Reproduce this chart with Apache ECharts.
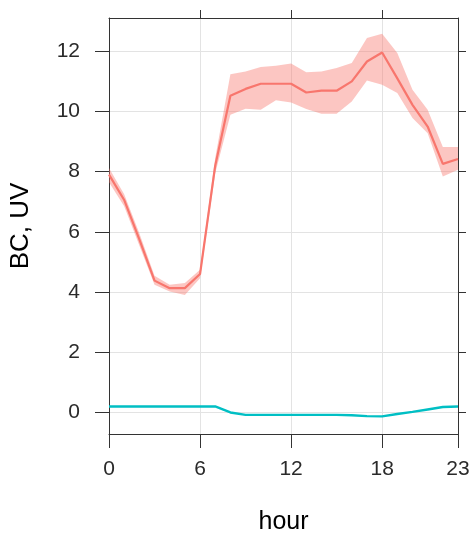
<!DOCTYPE html>
<html><head><meta charset="utf-8">
<script src="https://cdn.jsdelivr.net/npm/echarts@6/dist/echarts.min.js"></script>
<style>html,body{margin:0;padding:0;background:#fff}#c{width:473px;height:534px}</style>
</head><body><div id="c"></div>
<script>
const hours = [0,1,2,3,4,5,6,7,8,9,10,11,12,13,14,15,16,17,18,19,20,21,22,23];
const bcMean  = [7.9,7.06,5.75,4.38,4.13,4.13,4.6,8.2,10.52,10.75,10.92,10.92,10.92,10.63,10.69,10.69,11.0,11.66,11.96,11.1,10.22,9.5,8.26,8.42];
const bcLower = [7.65,6.85,5.55,4.24,4.02,3.9,4.46,7.95,9.89,10.09,10.06,10.37,10.3,10.08,9.92,9.92,10.33,11.03,10.89,10.61,9.78,9.28,7.84,8.06];
const bcUpper = [8.12,7.25,5.95,4.54,4.24,4.3,4.74,8.45,11.24,11.33,11.48,11.52,11.59,11.3,11.33,11.44,11.61,12.44,12.58,11.94,10.72,10.06,8.82,8.82];
const uvMean  = [0.2,0.2,0.2,0.2,0.2,0.2,0.2,0.2,0.0,-0.08,-0.08,-0.08,-0.08,-0.08,-0.08,-0.08,-0.09,-0.12,-0.13,-0.05,0.02,0.1,0.18,0.2];
const xTicks = [0,6,12,18,23];
const yTicks = [0,2,4,6,8,10,12];
const seriesNames = ['BC','UV'];

const red = '#F8766D', cyan = '#00BFC4';
const pair = (a) => hours.map((h,i)=>[h,a[i]]);
const bandData = hours.map((h,i)=>[h, bcLower[i], bcUpper[i]]);
const FONT = 'Liberation Sans, Arial, sans-serif';
const axisCol = '#333';
const chart = echarts.init(document.getElementById('c'), null, {renderer:'canvas'});
chart.setOption({
  animation:false,
  backgroundColor:'#fff',
  grid:{left:109,right:15,top:18,bottom:100,containLabel:false,outerBoundsMode:'none'},
  xAxis:[
    {type:'value',min:0,max:23,interval:6,position:'bottom',
     axisLine:{show:true,onZero:false,lineStyle:{color:axisCol,width:1}},
     axisTick:{show:true,length:14,inside:false,customValues:xTicks,lineStyle:{color:axisCol}},
     axisLabel:{show:true,margin:25,fontSize:21,color:'#2a2a2a',fontFamily:FONT,customValues:xTicks},
     splitLine:{show:true,lineStyle:{color:'#e3e3e3',width:1}},
     name:'hour',nameLocation:'middle',nameGap:76,nameTextStyle:{fontSize:25,color:'#000',fontFamily:FONT}},
    {type:'value',min:0,max:23,interval:6,position:'top',
     axisLine:{show:true,onZero:false,lineStyle:{color:axisCol,width:1}},
     axisTick:{show:true,length:8,inside:false,customValues:[6,12,18],lineStyle:{color:axisCol}},
     axisLabel:{show:false},splitLine:{show:false}}
  ],
  yAxis:[
    {type:'value',min:-0.715,max:13.105,position:'left',
     axisLine:{show:true,onZero:false,lineStyle:{color:axisCol,width:1}},
     axisTick:{show:true,length:14,customValues:yTicks,lineStyle:{color:axisCol}},
     axisLabel:{show:true,margin:29,fontSize:21,color:'#2a2a2a',fontFamily:FONT,customValues:yTicks},
     splitLine:{show:false},
     name:'BC, UV',nameLocation:'middle',nameGap:75,nameRotate:90,nameTextStyle:{fontSize:26,color:'#000',fontFamily:FONT}},
    {type:'value',min:-0.715,max:13.105,position:'right',
     axisLine:{show:true,onZero:false,lineStyle:{color:axisCol,width:1}},
     axisTick:{show:true,length:8,customValues:yTicks,lineStyle:{color:axisCol}},
     axisLabel:{show:false},splitLine:{show:false}}
  ],
  series:[
    {name:'band',type:'custom',data:bandData,silent:true,z:1,
     encode:{x:0,y:[1,2]},
     renderItem:function(params, api){
       if(params.dataIndex!==0) return null;
       const top = bandData.map(d=>api.coord([d[0],d[2]]));
       const bot = bandData.slice().reverse().map(d=>api.coord([d[0],d[1]]));
       return {type:'polygon',shape:{points:top.concat(bot)},style:{fill:'rgba(248,118,109,0.42)'}};
     }},
    {name:seriesNames[0],type:'line',data:pair(bcMean),symbol:'none',z:3,lineStyle:{color:red,width:2.2},
     markLine:{silent:true,symbol:'none',label:{show:false},animation:false,z:0,
      lineStyle:{color:'#e3e3e3',width:1,type:'solid'},
      data:yTicks.map(v=>({yAxis:v}))}},
    {name:seriesNames[1],type:'line',data:pair(uvMean),symbol:'none',z:3,lineStyle:{color:cyan,width:2.4}}
  ]
});
</script></body></html>
